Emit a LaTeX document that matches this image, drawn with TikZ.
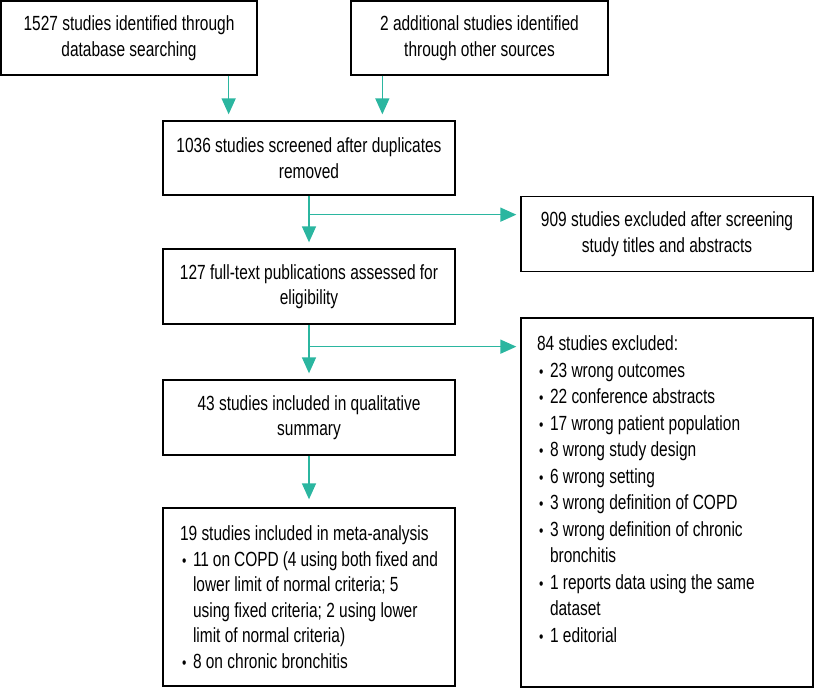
\documentclass[tikz,border=0pt]{standalone}
\usepackage{fontspec}
\setmainfont[FakeStretch=0.755]{Liberation Sans}
\usetikzlibrary{arrows.meta}
\definecolor{flowteal}{RGB}{43,182,160}
\newcommand{\bitem}[1]{\par\hangindent=13pt\hangafter=1\makebox[13pt][l]{\hspace{2pt}\scalebox{0.8}{\textbullet}}#1}

\begin{document}
\begin{tikzpicture}[x=1pt,y=-1pt,
  box/.style={draw, line width=1.3pt, rectangle, inner sep=0pt, align=center, font=\fontsize{20.5}{25.5}\selectfont},
  flow/.style={flowteal, line width=1.5pt, -{Triangle[width=14pt,length=16pt]}, shorten >=6pt}]
\useasboundingbox (0,0) rectangle (814,688);
\node[box, minimum width=256pt, minimum height=74pt] (sid0) at (129,38){1527 studies identified through\\database searching};
\node[box, minimum width=257pt, minimum height=74pt] (sid1) at (479.5,38){2 additional studies identified\\through other sources};
\node[box, minimum width=292pt, minimum height=74pt] (sid2) at (309,158){1036 studies screened after duplicates\\removed};
\node[box, minimum width=292pt, minimum height=75pt] (sid3) at (667,234){909 studies excluded after screening\\study titles and abstracts};
\node[box, minimum width=292pt, minimum height=75pt] (sid4) at (309,286.5){127 full-text publications assessed for\\eligibility};
\node[box, minimum width=292pt, minimum height=369pt] (sid5) at (667,502.5){};
\node[box, draw=none, align=flush left, text width=262pt, anchor=north west, font=\fontsize{20.5}{26.5}\selectfont] (sid5t) at ([xshift=16pt,yshift=-18pt]sid5.north west){84 studies excluded:
\bitem{23 wrong outcomes}
\bitem{22 conference abstracts}
\bitem{17 wrong patient population}
\bitem{8 wrong study design}
\bitem{6 wrong setting}
\bitem{3 wrong definition of COPD}
\bitem{3 wrong definition of chronic\newline bronchitis}
\bitem{1 reports data using the same\newline dataset}
\bitem{1 editorial}};
\node[box, minimum width=292pt, minimum height=75pt] (sid6) at (309,417.5){43 studies included in qualitative\\summary};
\node[box, align=flush left, text width=258pt, inner xsep=17pt, minimum height=178pt] (sid7) at (309,597){19 studies included in meta-analysis
\bitem{11 on COPD (4 using both fixed and\newline lower limit of normal criteria; 5\newline using fixed criteria; 2 using lower\newline limit of normal criteria)}
\bitem{8 on chronic bronchitis}};
\draw[flow] ([xshift=-29pt]sid0.south east) -- ([xshift=-29pt]sid0.south east |- sid2.north);
\draw[flow] ([xshift=32pt]sid1.south west) -- ([xshift=32pt]sid1.south west |- sid2.north);
\draw[flow] (sid2) -- (sid4);
\draw[flow, shorten >=4pt] ([yshift=-19pt]sid2.south) -- ([yshift=-19pt]sid2.south -| sid3.west);
\draw[flow] (sid4) -- (sid6);
\draw[flow, shorten >=4pt] ([yshift=-22pt]sid4.south) -- ([yshift=-22pt]sid4.south -| sid5.west);
\draw[flow, shorten >=8pt] (sid6) -- (sid7);
\end{tikzpicture}
\end{document}
